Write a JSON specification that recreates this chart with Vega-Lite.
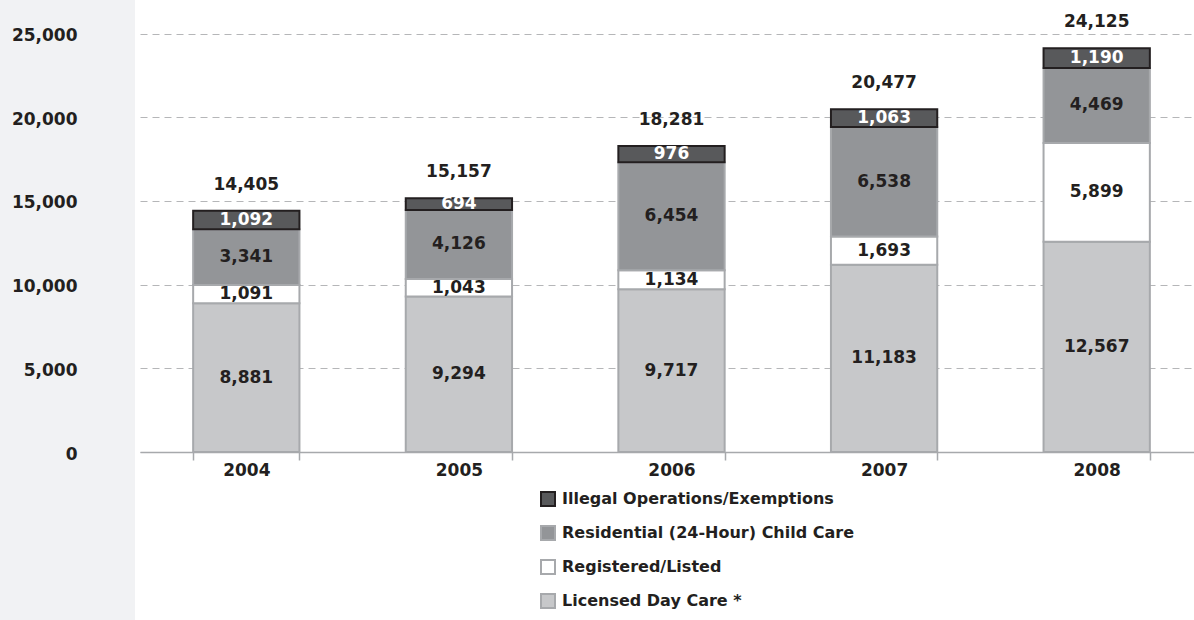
{
  "$schema": "https://vega.github.io/schema/vega-lite/v6.json",
  "autosize": {"type": "none"},
  "padding": {"left": 135, "top": 0, "right": 0, "bottom": 0},
  "width": 1059,
  "height": 620,
  "background": "#f1f2f4",
  "view": {"fill": "#ffffff", "stroke": null},
  "config": {
    "font": "DejaVu Sans",
    "axis": {"labelFont": "DejaVu Sans", "labelFontWeight": "bold", "labelColor": "#231f20"},
    "legend": {"labelFont": "DejaVu Sans", "labelFontWeight": "bold", "labelColor": "#231f20"}
  },
  "data": {
    "values": [
      {"year": "2004", "series": "Licensed Day Care *", "rank": 1, "value": 8881},
      {"year": "2004", "series": "Registered/Listed", "rank": 2, "value": 1091},
      {"year": "2004", "series": "Residential (24-Hour) Child Care", "rank": 3, "value": 3341},
      {"year": "2004", "series": "Illegal Operations/Exemptions", "rank": 4, "value": 1092},
      {"year": "2005", "series": "Licensed Day Care *", "rank": 1, "value": 9294},
      {"year": "2005", "series": "Registered/Listed", "rank": 2, "value": 1043},
      {"year": "2005", "series": "Residential (24-Hour) Child Care", "rank": 3, "value": 4126},
      {"year": "2005", "series": "Illegal Operations/Exemptions", "rank": 4, "value": 694},
      {"year": "2006", "series": "Licensed Day Care *", "rank": 1, "value": 9717},
      {"year": "2006", "series": "Registered/Listed", "rank": 2, "value": 1134},
      {"year": "2006", "series": "Residential (24-Hour) Child Care", "rank": 3, "value": 6454},
      {"year": "2006", "series": "Illegal Operations/Exemptions", "rank": 4, "value": 976},
      {"year": "2007", "series": "Licensed Day Care *", "rank": 1, "value": 11183},
      {"year": "2007", "series": "Registered/Listed", "rank": 2, "value": 1693},
      {"year": "2007", "series": "Residential (24-Hour) Child Care", "rank": 3, "value": 6538},
      {"year": "2007", "series": "Illegal Operations/Exemptions", "rank": 4, "value": 1063},
      {"year": "2008", "series": "Licensed Day Care *", "rank": 1, "value": 12567},
      {"year": "2008", "series": "Registered/Listed", "rank": 2, "value": 5899},
      {"year": "2008", "series": "Residential (24-Hour) Child Care", "rank": 3, "value": 4469},
      {"year": "2008", "series": "Illegal Operations/Exemptions", "rank": 4, "value": 1190}
    ]
  },
  "encoding": {
    "x": {
      "field": "year", "type": "nominal", "title": null,
      "scale": {"range": [5, 1068], "paddingInner": 0.5, "paddingOuter": 0.25},
      "axis": {
        "offset": -168, "labelAngle": 0, "labelFontSize": 17, "labelPadding": 2,
        "tickBand": "extent", "tickSize": 8, "tickColor": "#a7a9ac", "tickWidth": 1.5,
        "domainColor": "#a7a9ac", "domainWidth": 1.5, "grid": false
      }
    }
  },
  "layer": [
    {
      "mark": {"type": "bar", "strokeWidth": 2},
      "encoding": {
        "y": {
          "field": "value", "type": "quantitative", "stack": "zero", "title": null,
          "scale": {"domain": [0, 25000], "range": [452, 33.5], "nice": false},
          "axis": {
            "values": [0, 5000, 10000, 15000, 20000, 25000],
            "labelExpr": "format(datum.value, ',')",
            "labelFontSize": 17, "labelPadding": 58, "labelOffset": 2, "tickSize": 0, "ticks": false, "domain": false,
            "grid": true, "gridColor": "#b5b6b8", "gridDash": [7, 5], "gridWidth": 1
          }
        },
        "order": {"field": "rank", "type": "quantitative", "sort": "ascending"},
        "fill": {
          "field": "series", "type": "nominal", "title": null,
          "scale": {
            "domain": ["Illegal Operations/Exemptions", "Residential (24-Hour) Child Care", "Registered/Listed", "Licensed Day Care *"],
            "range": ["#58595b", "#939598", "#ffffff", "#c7c8ca"]
          },
          "legend": {
            "orient": "none", "legendX": 405, "legendY": 491, "direction": "vertical",
            "symbolType": "square", "symbolSize": 196, "symbolStrokeWidth": 2,
            "labelFontSize": 16, "labelOffset": 6, "rowPadding": 12, "labelLimit": 400
          }
        },
        "stroke": {
          "field": "series", "type": "nominal", "title": null,
          "scale": {
            "domain": ["Illegal Operations/Exemptions", "Residential (24-Hour) Child Care", "Registered/Listed", "Licensed Day Care *"],
            "range": ["#231f20", "#a7a9ac", "#a7a9ac", "#a7a9ac"]
          }
        }
      }
    },
    {
      "mark": {"type": "text", "fontSize": 17, "fontWeight": "bold", "baseline": "middle"},
      "encoding": {
        "y": {"field": "value", "type": "quantitative", "stack": "zero", "bandPosition": 0.5, "title": null},
        "order": {"field": "rank", "type": "quantitative", "sort": "ascending"},
        "text": {"field": "value", "type": "quantitative", "format": ","},
        "color": {
          "field": "series", "type": "nominal",
          "scale": {
            "domain": ["Illegal Operations/Exemptions", "Residential (24-Hour) Child Care", "Registered/Listed", "Licensed Day Care *"],
            "range": ["#ffffff", "#231f20", "#231f20", "#231f20"]
          },
          "legend": null
        }
      }
    },
    {
      "mark": {"type": "text", "fontSize": 17, "fontWeight": "bold", "baseline": "alphabetic", "dy": -21, "color": "#231f20"},
      "encoding": {
        "y": {"aggregate": "sum", "field": "value", "type": "quantitative", "stack": null, "title": null},
        "text": {"aggregate": "sum", "field": "value", "type": "quantitative", "format": ","}
      }
    }
  ],
  "resolve": {"scale": {"color": "independent"}}
}
